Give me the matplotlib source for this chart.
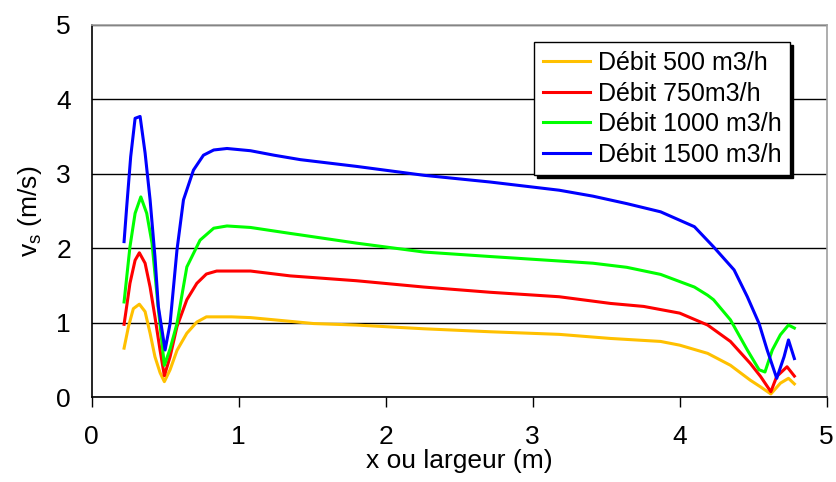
import matplotlib
matplotlib.use("Agg")
import matplotlib.pyplot as plt

plt.rcParams['font.family'] = ['Liberation Sans', 'DejaVu Sans']

# Débit 500 m3/h
x_500 = [0.22, 0.25, 0.283, 0.324, 0.363, 0.397, 0.43, 0.465, 0.494, 0.533, 0.58, 0.647,
         0.715, 0.78, 0.85, 0.95, 1.08, 1.35, 1.51, 1.80, 2.26, 2.71, 3.18, 3.53, 3.87,
         4.0, 4.19, 4.345, 4.48, 4.55, 4.62, 4.685, 4.74, 4.78]
v_500 = [0.66, 0.95, 1.19, 1.25, 1.15, 0.86, 0.545, 0.33, 0.21, 0.37, 0.63, 0.86,
         1.01, 1.08, 1.08, 1.08, 1.07, 1.02, 0.99, 0.97, 0.92, 0.88, 0.845, 0.79, 0.75,
         0.70, 0.59, 0.43, 0.23, 0.14, 0.045, 0.19, 0.255, 0.18]

# Débit 750 m3/h
x_750 = [0.22, 0.234, 0.26, 0.295, 0.324, 0.363, 0.397, 0.43, 0.465, 0.494, 0.533, 0.58,
         0.647, 0.715, 0.78, 0.85, 1.08, 1.35, 1.80, 2.26, 2.71, 3.18, 3.53, 3.755, 4.0,
         4.19, 4.345, 4.48, 4.55, 4.62, 4.66, 4.73, 4.78]
v_750 = [0.98, 1.17, 1.53, 1.84, 1.94, 1.80, 1.48, 1.08, 0.63, 0.29, 0.545, 0.95,
         1.31, 1.53, 1.655, 1.695, 1.695, 1.63, 1.565, 1.48, 1.41, 1.35, 1.26, 1.22, 1.13,
         0.97, 0.75, 0.455, 0.28, 0.075, 0.28, 0.41, 0.285]

# Débit 1000 m3/h
x_1000 = [0.22, 0.26, 0.295, 0.334, 0.374, 0.41, 0.45, 0.494, 0.533, 0.58, 0.647, 0.737,
          0.83, 0.92, 1.08, 1.35, 1.42, 1.80, 2.26, 2.71, 3.18, 3.41, 3.64, 3.87, 4.005,
          4.10, 4.19, 4.23, 4.345, 4.46, 4.54, 4.58, 4.63, 4.685, 4.74, 4.78]
v_1000 = [1.28, 2.02, 2.47, 2.69, 2.47, 2.07, 1.25, 0.43, 0.65, 0.99, 1.75, 2.11,
          2.27, 2.30, 2.28, 2.20, 2.18, 2.07, 1.95, 1.89, 1.83, 1.80, 1.745, 1.65, 1.55,
          1.48, 1.37, 1.31, 1.04, 0.635, 0.37, 0.34, 0.635, 0.84, 0.97, 0.93]

# Débit 1500 m3/h
x_1500 = [0.22, 0.238, 0.265, 0.295, 0.329, 0.363, 0.397, 0.43, 0.453, 0.499, 0.533, 0.58,
          0.624, 0.692, 0.76, 0.83, 0.92, 1.08, 1.24, 1.42, 1.80, 2.26, 2.71, 3.18, 3.41,
          3.64, 3.87, 4.10, 4.23, 4.37, 4.46, 4.54, 4.595, 4.66, 4.71, 4.74, 4.78]
v_1500 = [2.09, 2.56, 3.23, 3.745, 3.77, 3.28, 2.65, 1.89, 1.22, 0.635, 0.99, 1.98,
          2.65, 3.05, 3.25, 3.32, 3.34, 3.31, 3.25, 3.19, 3.10, 2.98, 2.89, 2.78, 2.70,
          2.60, 2.49, 2.29, 2.02, 1.71, 1.35, 0.99, 0.635, 0.255, 0.545, 0.77, 0.52]

labels = ["Débit 500 m3/h", "Débit 750m3/h", "Débit 1000 m3/h", "Débit 1500 m3/h"]
colors = ["#FFC000", "#FF0000", "#00FF00", "#0000FF"]
xticks = [0, 1, 2, 3, 4, 5]
yticks = [0, 1, 2, 3, 4, 5]

fig = plt.figure(figsize=(8.37, 4.82), dpi=100)
ax = fig.add_axes([0.1096, 0.1757, 0.8781, 0.7728])

series = [(x_500, v_500), (x_750, v_750), (x_1000, v_1000), (x_1500, v_1500)]
for (xs, vs), lab, col in zip(series, labels, colors):
    ax.plot(xs, vs, color=col, lw=2.2, label=lab, zorder=3)

ax.set_xlim(0, 5)
ax.set_ylim(0, 5)
ax.set_xticks(xticks)
ax.set_yticks(yticks)
ax.tick_params(axis='x', direction='out', length=7, width=1, labelsize=19, pad=13, color='black')
ax.tick_params(axis='y', length=0, labelsize=19, pad=15)
ax.yaxis.grid(True, color='black', lw=1)
ax.set_axisbelow(True)

ax.spines['left'].set_color('black')
ax.spines['bottom'].set_color('black')
ax.spines['top'].set_color('#A0A0A0')
ax.spines['right'].set_color('#A0A0A0')
for s in ax.spines.values():
    s.set_linewidth(1.2)

ax.set_xlabel("x ou largeur (m)", fontsize=19, labelpad=0)
ax.set_ylabel(r"v$_\mathregular{s}$ (m/s)", fontsize=19, labelpad=9)

leg = ax.legend(loc='upper left', bbox_to_anchor=(0.602, 0.953), fontsize=18,
                frameon=True, fancybox=False, shadow={'color': 'black', 'alpha': 1.0},
                edgecolor='black', framealpha=1, handlelength=1.9, labelspacing=0.26,
                borderpad=0.35, handletextpad=0.3, borderaxespad=0)
leg.get_frame().set_linewidth(1.0)

fig.savefig("out.png", dpi=100)
